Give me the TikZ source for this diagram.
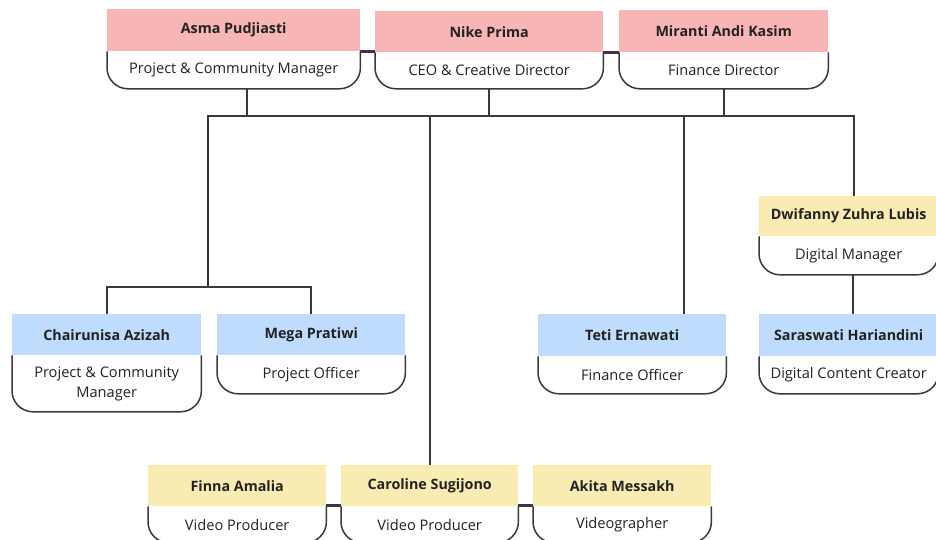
\documentclass[tikz,border=0pt]{standalone}
\usepackage{fontspec}
\setmainfont{Open Sans}
\definecolor{linec}{HTML}{3E3541}
\definecolor{pinkh}{HTML}{F8B5B5}
\definecolor{blueh}{HTML}{BFDBFD}
\definecolor{yellowh}{HTML}{F9ECB3}
\definecolor{txt}{HTML}{222222}
\tikzset{
  head/.style={anchor=north west, inner sep=0pt, draw=none, text=txt,
    font=\fontsize{14.3}{16}\selectfont\bfseries},
  bodybox/.style={inner sep=0pt, draw=none, align=center, text=txt,
    font=\fontsize{14.6}{20}\selectfont},
  bodyline/.style={draw=linec, line width=1.5pt, rounded corners=21pt},
  conn/.style={draw=linec, line width=2.3pt}
}
% id, x, y, w, header h, body h, colour, name, role
\newcommand\person[9]{%
  \node[head, fill=#7, minimum width=#4pt, minimum height=#5pt] (#1) at (#2,#3) {#8};
  \node[bodybox, minimum width=#4pt, minimum height=#6pt, anchor=north] (#1b) at (#1.south) {#9};
  \draw[bodyline] (#1b.north west) -- (#1b.south west) -- (#1b.south east) -- (#1b.north east);
}
\begin{document}
\begin{tikzpicture}[x=1pt,y=-1pt]
\useasboundingbox (0,0) rectangle (936,540);
\clip (0,0) rectangle (936,540);
\fill[white] (0,0) rectangle (936,540);
\person{asma}{107}{9}{253}{42}{37}{pinkh}{Asma Pudjiasti}{Project \& Community Manager}
\person{nike}{375}{11}{228}{41}{36}{pinkh}{Nike Prima}{CEO \& Creative Director}
\person{mir}{619}{10}{209}{42}{36}{pinkh}{Miranti Andi Kasim}{Finance Director}
\person{dwif}{759}{196}{179}{40}{38}{yellowh}{Dwifanny Zuhra Lubis}{Digital Manager}
\person{sara}{759}{314}{179}{42}{37}{blueh}{Saraswati Hariandini}{Digital Content Creator}
\person{chair}{12}{314}{189}{41}{56}{blueh}{Chairunisa Azizah}{Project \& Community\\Manager}
\person{mega}{217}{314}{188}{41}{38}{blueh}{Mega Pratiwi}{Project Officer}
\person{teti}{538}{314}{188}{42}{37}{blueh}{Teti Ernawati}{Finance Officer}
\person{finna}{148}{465}{178}{41}{36}{yellowh}{Finna Amalia}{Video Producer}
\person{caro}{341}{465}{177}{41}{36}{yellowh}{Caroline Sugijono}{Video Producer}
\person{akita}{533}{465}{178}{41}{36}{yellowh}{Akita Messakh}{Videographer}
% connectors
\coordinate (busL) at (208,116);
\coordinate (busR) at (854,116);
\coordinate (jT) at (684,116);
\draw[conn] ([xshift=13.5pt]asmab.south) -- ([xshift=13.5pt]asmab.south |- busL);
\draw[conn] (nikeb.south) -- (nikeb.south |- busL);
\draw[conn] (mirb.south) -- (mirb.south |- busL);
\draw[conn] (busL |- 0,287) -- (busL) -- (busR) -- (busR |- dwif.north);
\draw[conn] (chair.north) -- ++(0,-27) -| (mega.north);
\draw[conn] (caro.north |- busL) -- (caro.north);
\draw[conn] (jT) -- (jT |- teti.north);
\draw[conn] ([xshift=4.5pt]dwifb.south) -- ([xshift=4.5pt]dwifb.south |- sara.north);
\draw[conn] (asma.south east) -- (asma.south east -| nike.west);
\draw[conn] (nike.south east) -- (nike.south east -| mir.west);
\draw[conn] ([yshift=1pt]finna.south east) -- ([yshift=1pt]finna.south east -| caro.west);
\draw[conn] ([yshift=1pt]caro.south east) -- ([yshift=1pt]caro.south east -| akita.west);
\end{tikzpicture}
\end{document}
